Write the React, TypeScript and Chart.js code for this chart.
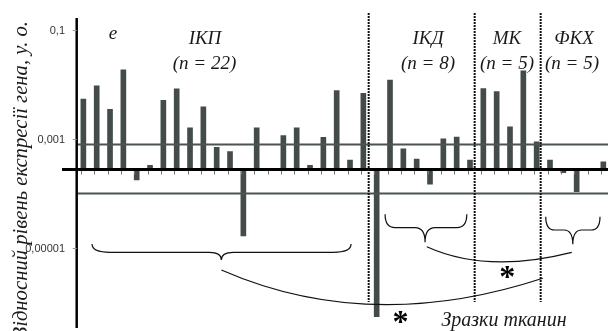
import React, { useEffect, useRef } from "react";
import { Chart, registerables } from "chart.js";

Chart.register(...registerables);

// ---- data (relative gene expression, log scale) ----
const ikpValues: (number | null)[] = [
  0.0054, 0.0095, 0.0035, 0.0185, 0.000177, 0.00033, 0.0051, 0.0083, 0.0016, 0.0039, 0.0007,
  0.000585, 0.0000166, 0.0016, null, 0.00115, 0.0016, 0.00033, 0.00107, 0.0077, 0.00041, 0.0069,
];
const ikdValues: (number | null)[] = [0.00000055, 0.0121, 0.00066, 0.00043, 0.000149, 0.00101, 0.00109, 0.00041];
const mkValues: (number | null)[] = [0.0084, 0.0074, 0.00168, 0.0179, 0.00089];
const fkhValues: (number | null)[] = [0.00041, 0.00024, 0.000108, null, 0.000383];

const groupNames = ["ІКП", "ІКД", "МК", "ФКХ"];
const groupCounts = ["(n = 22)", "(n = 8)", "(n = 5)", "(n = 5)"];
const baselineValue = 0.000275;
const thresholdValues = [0.00079, 0.0001];
const yTickValues = [0.1, 0.001, 0.00001];
const yTickLabels = ["0,1", "0,001", "0,00001"];
const yAxisTitle = "Відносний рівень експресії гена, у. о.";
const xAxisTitle = "Зразки тканин";
const panelLetter = "е";

const SERIF_I = "italic 19px 'Liberation Serif', 'Times New Roman', serif";

export default function App() {
  const ref = useRef<HTMLCanvasElement | null>(null);

  useEffect(() => {
    const all = [...ikpValues, ...ikdValues, ...mkValues, ...fkhValues];
    const data = all
      .map((v, i) => ({ x: i + 1, y: v == null ? null : [baselineValue, v] }))
      .filter((d) => d.y != null);

    const overlay = {
      id: "overlay",
      afterDatasetsDraw(chart: any) {
        const ctx: CanvasRenderingContext2D = chart.ctx;
        const xs = chart.scales.x;
        const ys = chart.scales.y;
        const area = chart.chartArea;
        const X = (u: number) => xs.getPixelForValue(u);
        const Y = (e: number) => ys.getPixelForValue(Math.pow(10, e));
        ctx.save();

        // threshold lines
        ctx.strokeStyle = "#4b5452";
        ctx.lineWidth = 2;
        thresholdValues.forEach((v) => {
          const y = ys.getPixelForValue(v);
          ctx.beginPath();
          ctx.moveTo(area.left, y);
          ctx.lineTo(area.right, y);
          ctx.stroke();
        });

        // category ticks under the baseline
        const yb = ys.getPixelForValue(baselineValue);
        ctx.strokeStyle = "#777";
        ctx.lineWidth = 1;
        for (let i = 1; i <= all.length; i++) {
          const x = Math.round(X(i) - 2.5) + 0.5;
          ctx.beginPath();
          ctx.moveTo(x, yb + 1);
          ctx.lineTo(x, yb + 5);
          ctx.stroke();
        }

        // baseline (x axis)
        ctx.strokeStyle = "#000";
        ctx.lineWidth = 3;
        ctx.beginPath();
        ctx.moveTo(62, yb);
        ctx.lineTo(area.right, yb);
        ctx.stroke();

        // y axis
        ctx.lineWidth = 2.5;
        ctx.beginPath();
        ctx.moveTo(area.left, 18);
        ctx.lineTo(area.left, 328);
        ctx.stroke();

        // y ticks + labels
        ctx.font = "11px 'Liberation Sans Narrow', 'Liberation Sans', sans-serif";
        ctx.fillStyle = "#333";
        ctx.textAlign = "right";
        ctx.textBaseline = "middle";
        yTickValues.forEach((v, i) => {
          const y = ys.getPixelForValue(v);
          ctx.fillText(yTickLabels[i], 65, y + 0.5);
          ctx.strokeStyle = "#999";
          ctx.lineWidth = 1;
          ctx.beginPath();
          ctx.moveTo(area.left - 4, Math.round(y) + 0.5);
          ctx.lineTo(area.left, Math.round(y) + 0.5);
          ctx.stroke();
        });

        // group separators
        ctx.strokeStyle = "#111";
        ctx.lineWidth = 2;
        ctx.setLineDash([2, 1]);
        [22.4, 30.35, 35.3].forEach((u) => {
          const x = X(u);
          ctx.beginPath();
          ctx.moveTo(x, 13);
          ctx.lineTo(x, 302);
          ctx.stroke();
        });
        ctx.setLineDash([]);

        // braces
        ctx.strokeStyle = "#111";
        ctx.lineWidth = 1.2;
        const brace = (u1: number, u2: number, ut: number, eTop: number, eMid: number, eTip: number, rEnd: number, rTip: number) => {
          const x1 = X(u1), x2 = X(u2), xt = X(ut);
          const yTop = Y(eTop), yMid = Y(eMid), yTip = Y(eTip);
          ctx.beginPath();
          ctx.moveTo(x1, yTop);
          ctx.quadraticCurveTo(x1, yMid, x1 + rEnd, yMid);
          ctx.lineTo(xt - rTip, yMid);
          ctx.quadraticCurveTo(xt, yMid, xt, yTip);
          ctx.quadraticCurveTo(xt, yMid, xt + rTip, yMid);
          ctx.lineTo(x2 - rEnd, yMid);
          ctx.quadraticCurveTo(x2, yMid, x2, yTop);
          ctx.stroke();
        };
        brace(1.65, 21.08, 11.35, -4.927, -5.079, -5.22, 18, 12);
        brace(23.63, 29.76, 26.63, -4.382, -4.627, -4.895, 10, 10);
        brace(35.68, 39.75, 37.71, -4.426, -4.67, -4.932, 9, 9);

        // comparison arcs
        const arc = (a: number[], c: number[], b: number[]) => {
          ctx.beginPath();
          ctx.moveTo(X(a[0]), Y(a[1]));
          ctx.quadraticCurveTo(X(c[0]), Y(c[1]), X(b[0]), Y(b[1]));
          ctx.stroke();
        };
        arc([11.35, -5.404], [22.5, -6.596], [35.46, -5.556]);
        arc([26.76, -4.976], [31.27, -5.475], [37.63, -5.079]);

        // asterisks
        ctx.fillStyle = "#000";
        ctx.font = "bold 32px 'Liberation Serif', 'Times New Roman', serif";
        ctx.textAlign = "center";
        ctx.textBaseline = "alphabetic";
        const star = (u: number, e: number) => {
          const m = ctx.measureText("*");
          const h = m.actualBoundingBoxAscent - m.actualBoundingBoxDescent;
          ctx.fillText("*", X(u), Y(e) + h / 2);
        };
        star(32.8, -5.449);
        star(24.79, -6.275);

        // texts
        ctx.fillStyle = "#1a1a1a";
        ctx.font = SERIF_I;
        ctx.textAlign = "center";
        ctx.textBaseline = "alphabetic";
        ctx.fillText(panelLetter, 113, 38.5);
        const nameX = [205, 428, 507, 574];
        const countX = [204.5, 428, 507, 572];
        groupNames.forEach((g, i) => ctx.fillText(g, nameX[i], 44));
        groupCounts.forEach((g, i) => ctx.fillText(g, countX[i], 68.5));
        ctx.font = "italic 20px 'Liberation Serif', 'Times New Roman', serif";
        ctx.fillText(xAxisTitle, 504, 326);

        // y axis title
        ctx.save();
        ctx.translate(27, 21);
        ctx.rotate(-Math.PI / 2);
        ctx.font = "italic 20.7px 'Liberation Serif', 'Times New Roman', serif";
        ctx.textAlign = "right";
        ctx.textBaseline = "alphabetic";
        ctx.fillText(yAxisTitle, 0, 0);
        ctx.restore();

        ctx.restore();
      },
    };

    const chart = new Chart(ref.current as HTMLCanvasElement, {
      type: "bar",
      data: {
        datasets: [
          {
            data: data as any,
            backgroundColor: "#434c4a",
            borderWidth: 0,
            barThickness: 5,
          },
        ],
      },
      options: {
        animation: false,
        responsive: false,
        devicePixelRatio: 1,
        layout: { padding: { left: 76.7, right: 0, top: 19.1, bottom: 1.25 } },
        plugins: { legend: { display: false }, tooltip: { enabled: false } },
        scales: {
          x: { type: "linear", min: 0.5, max: 40.35, display: false, offset: false, bounds: "data" },
          y: { type: "logarithmic", min: Math.pow(10, -6.5), max: Math.pow(10, -0.8), display: false, bounds: "data" },
        },
      } as any,
      plugins: [overlay],
    });
    return () => chart.destroy();
  }, []);

  return (
    <canvas
      ref={ref}
      width={608}
      height={331}
      style={{ position: "absolute", left: 0, top: 0, width: 608, height: 331, background: "#fff" }}
    />
  );
}
